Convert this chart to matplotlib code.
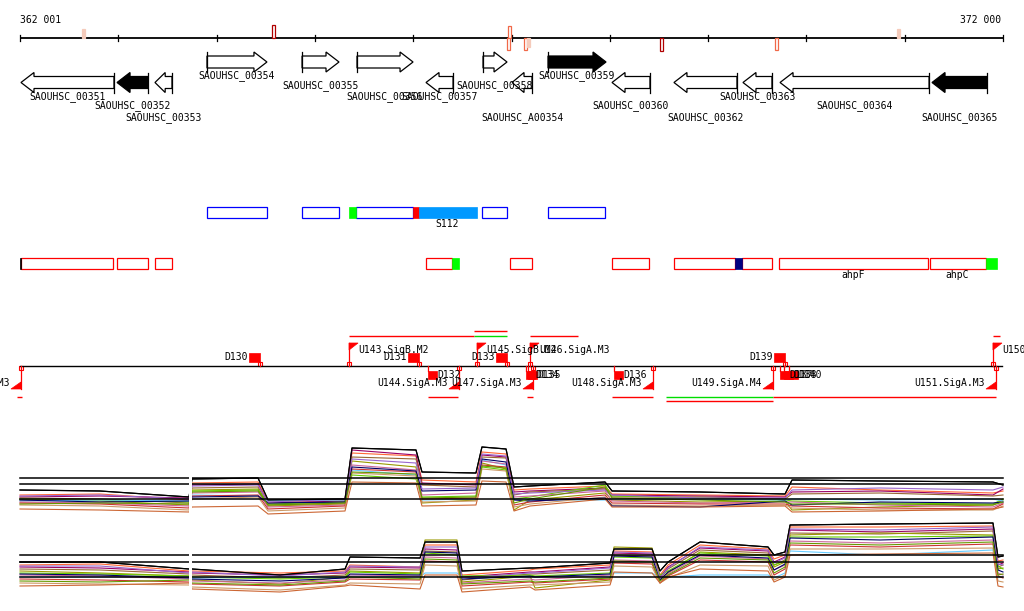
import numpy as np
import matplotlib
matplotlib.use("Agg")
import matplotlib.pyplot as plt
from matplotlib.patches import Polygon, Rectangle

# ---------------- data ----------------
region_start, region_end = 362001, 372000
region_labels = ["362 001", "372 000"]
scale_ticks = [362001, 363001, 364001, 365001, 366001, 367001, 368001,
               369001, 370001, 371001, 372000]

gene_names = ["SAOUHSC_00351", "SAOUHSC_00352", "SAOUHSC_00353", "SAOUHSC_00354",
              "SAOUHSC_00355", "SAOUHSC_00356", "SAOUHSC_00357", "SAOUHSC_00358",
              "SAOUHSC_A00354", "SAOUHSC_00359", "SAOUHSC_00360", "SAOUHSC_00362",
              "SAOUHSC_00363", "SAOUHSC_00364", "SAOUHSC_00365"]
gene_starts = [362011, 362988, 363374, 363903, 364870, 365429, 366131, 366711,
               367006, 367372, 368023, 368653, 369355, 369732, 371278]
gene_ends = [362957, 363303, 363547, 364513, 365246, 365999, 366406, 366955,
             367209, 367962, 368409, 369294, 369650, 371248, 371838]
gene_strands = ["-", "-", "-", "+", "+", "+", "-", "+", "-", "+", "-", "-", "-", "-", "-"]
gene_filled = [False, True, False, False, False, False, False, False, False, True,
               False, False, False, False, True]

mark_pos = [362652, 364575, 366985, 366965, 367138, 367178, 368531, 369701, 370942]
mark_strand = ["+", "+", "+", "-", "-", "-", "-", "-", "+"]
mark_level = ["low", "high", "mid", "mid", "mid", "low", "high", "mid", "low"]

blue_box_starts = [363903, 364870, 365419, 366701, 367372]
blue_box_ends = [364513, 365246, 365999, 366955, 367952]
blue_fill_starts = [365348, 365999, 366060]
blue_fill_ends = [365419, 366060, 366650]
blue_fill_colors = ["#00ff00", "#ff0000", "#0099ff"]
blue_label = ("S112", 366344)

red_box_starts = [362011, 362988, 363374, 366131, 366985, 368023, 368653, 369345,
                  369722, 371258]
red_box_ends = [362947, 363303, 363547, 366395, 367209, 368399, 369274, 369650,
                371237, 371828]
red_fill_starts = [362001, 366395, 369274, 371828]
red_fill_ends = [362011, 366466, 369345, 371940]
red_fill_colors = ["#000000", "#00ff00", "#000080", "#00ff00"]
red_labels = [("ahpF", 370474), ("ahpC", 371532)]

prom_names = ["U142.SigA.M3", "U143.SigB.M2", "U144.SigA.M3", "U145.SigB.M2",
              "U146.SigA.M3", "U147.SigA.M3", "U148.SigA.M3", "U149.SigA.M4",
              "U150.SigA.M3", "U151.SigA.M3"]
prom_pos = [362011, 365348, 366466, 366650, 367189, 367219, 368440, 369660,
            371898, 371929]
prom_strand = ["-", "+", "-", "+", "+", "-", "-", "-", "+", "-"]

term_names = ["D130", "D131", "D133", "D139", "D132", "D134", "D135", "D136",
              "D137", "D138", "D140"]
term_pos = [364442, 366060, 366955, 369783, 366151, 367148, 367168, 368043,
            369732, 369773, 369823]
term_strand = ["+", "+", "+", "+", "-", "-", "-", "-", "-", "-", "-"]

# transcript lines: start, end, side, row, colour
tx_starts = [365348, 366620, 366620, 367189, 371898,
             361971, 366151, 367158, 368023, 368572, 368572, 369660]
tx_ends = [366620, 366955, 366955, 367677, 371970,
           362021, 366456, 367219, 368440, 369660, 369660, 371929]
tx_side = ["+", "+", "+", "+", "+", "-", "-", "-", "-", "-", "-", "-"]
tx_row = [0, 0, 1, 0, 0, 0, 0, 0, 0, 0, 1, 0]
tx_color = ["#ff0000", "#00dd00", "#ff0000", "#ff0000", "#ff0000",
            "#ff0000", "#ff0000", "#ff0000", "#ff0000", "#00dd00", "#ff0000", "#ff0000"]

# expression profiles
top_knots = [362001, 362815, 363720, 363751, 364422, 364524, 365307, 365378, 366029,
             366090, 366639, 366700, 366945, 367026, 367189, 367952, 368023, 368918,
             369783, 369854, 370749, 371898, 372000]
top_series = [
    [2.5, 2.4, 1.8, 3.6, 3.7, 1.5, 1.6, 6.7, 6.5, 4.3, 4.2, 6.8, 6.6, 2.8, 2.9, 3.3, 2.4, 2.3, 2.1, 3.5, 3.4, 3.3, 3.0],
    [2.0, 2.1, 1.5, 3.2, 3.3, 1.3, 1.5, 6.2, 5.9, 3.5, 3.3, 6.3, 6.1, 2.5, 2.6, 2.9, 2.1, 2.0, 1.9, 2.8, 2.5, 2.2, 2.4],
    [1.8, 1.9, 1.7, 3.0, 3.1, 1.2, 1.4, 6.5, 6.0, 3.2, 3.0, 6.0, 5.8, 2.3, 2.4, 2.7, 2.0, 1.9, 1.8, 2.3, 2.4, 2.0, 2.6],
    [1.7, 1.6, 1.2, 2.7, 2.8, 1.0, 1.2, 5.8, 5.6, 3.0, 2.8, 5.8, 5.7, 2.0, 2.3, 2.6, 1.8, 1.8, 1.6, 2.1, 2.2, 1.9, 2.0],
    [1.5, 1.4, 1.0, 2.5, 2.6, 0.9, 1.1, 5.4, 4.8, 1.2, 1.5, 5.2, 4.6, 0.5, 1.5, 2.2, 1.5, 1.3, 1.4, 0.5, 0.8, 1.0, 1.5],
    [1.6, 1.5, 1.3, 2.4, 2.5, 1.1, 1.3, 4.0, 3.6, 1.8, 1.9, 4.8, 4.5, 1.6, 1.8, 3.0, 1.9, 1.7, 1.5, 1.4, 1.2, 1.1, 1.6],
    [1.4, 1.5, 1.4, 2.0, 1.9, 1.4, 1.5, 4.5, 4.0, 1.5, 1.6, 5.5, 5.0, 1.6, 1.5, 1.5, 1.6, 1.6, 1.5, 1.6, 1.5, 1.6, 1.4],
    [1.3, 1.2, 0.9, 2.2, 2.3, 0.8, 1.0, 5.0, 4.5, 2.0, 2.2, 5.4, 5.1, 1.8, 1.9, 2.4, 1.4, 1.2, 1.3, 1.3, 1.0, 0.8, 1.2],
    [1.2, 1.1, 0.7, 1.9, 2.0, 0.6, 0.9, 4.6, 4.3, 1.6, 1.7, 5.0, 4.8, 1.0, 1.3, 2.0, 1.2, 1.1, 1.1, 0.9, 0.7, 0.6, 1.1],
    [1.0, 0.9, 0.5, 1.6, 1.8, 0.4, 0.7, 4.2, 3.9, 1.3, 1.4, 4.6, 4.4, 0.8, 1.1, 1.8, 1.0, 0.9, 1.0, 0.7, 0.5, 0.5, 0.9],
    [1.5, 1.3, 1.4, 1.8, 1.9, 1.2, 1.3, 4.8, 4.4, 2.4, 2.5, 5.6, 5.3, 1.5, 1.4, 1.7, 0.9, 0.8, 1.4, 1.0, 1.3, 1.2, 1.3],
    [0.6, 0.5, 0.3, 0.8, 0.9, 0.1, 0.4, 3.3, 3.2, 0.9, 1.0, 3.4, 3.3, 0.4, 0.9, 1.6, 0.8, 0.8, 0.9, 0.3, 0.4, 0.6, 0.8],
    [1.9, 2.0, 1.6, 2.9, 3.0, 1.3, 1.6, 5.6, 5.2, 2.6, 2.7, 6.1, 5.9, 2.1, 2.2, 2.5, 2.0, 1.7, 1.7, 2.5, 2.7, 2.5, 2.8],
    [1.1, 1.2, 1.1, 2.3, 2.4, 1.0, 1.2, 4.3, 4.1, 1.7, 1.8, 4.9, 4.7, 1.2, 1.6, 2.8, 1.7, 1.5, 1.3, 1.1, 1.1, 1.0, 1.3],
]
top_thresholds = [3.7, 3.1, 1.6]

bot_knots = [362001, 362815, 363720, 363751, 364646, 365307, 365358, 366070, 366121,
             366446, 366497, 367189, 367240, 368003, 368043, 368430, 368511, 368593,
             368918, 369610, 369671, 369783, 369834, 370749, 371898, 371949, 372000]
bot_series = [
    [3.3, 3.3, 2.6, 2.6, 2.0, 2.6, 3.8, 3.7, 5.3, 5.3, 2.4, 2.7, 2.7, 3.2, 4.6, 4.6, 2.4, 3.3, 5.3, 4.8, 4.0, 4.3, 7.0, 7.1, 7.2, 3.8, 3.9],
    [3.0, 3.1, 2.4, 2.4, 2.2, 2.4, 3.0, 2.8, 5.0, 5.0, 2.0, 2.5, 2.6, 3.0, 4.4, 4.3, 2.0, 3.0, 5.0, 4.6, 3.6, 4.0, 6.8, 6.8, 6.9, 3.4, 3.5],
    [2.8, 2.7, 2.3, 2.2, 2.0, 2.2, 2.8, 2.7, 4.6, 4.5, 1.8, 2.3, 2.3, 2.8, 4.2, 4.1, 1.8, 2.8, 4.7, 4.4, 3.3, 3.8, 6.5, 6.3, 6.6, 3.0, 3.2],
    [2.6, 2.5, 2.1, 2.0, 1.7, 2.0, 2.6, 2.5, 4.4, 4.3, 1.5, 2.1, 2.1, 2.5, 4.0, 3.9, 1.6, 2.6, 4.5, 4.2, 3.0, 3.5, 6.2, 6.1, 6.4, 2.8, 3.0],
    [2.4, 2.2, 1.9, 1.5, 1.1, 1.8, 2.4, 2.2, 5.5, 5.5, 1.3, 1.9, 0.7, 1.5, 4.8, 4.7, 1.5, 2.2, 4.3, 4.0, 2.8, 3.3, 6.0, 6.2, 6.0, 2.6, 2.7],
    [2.2, 2.1, 1.9, 1.8, 1.6, 1.8, 2.3, 2.1, 4.2, 4.0, 1.9, 2.0, 1.9, 2.2, 3.8, 3.7, 2.0, 2.4, 4.2, 3.9, 3.0, 3.4, 5.8, 5.8, 5.9, 2.9, 2.6],
    [1.8, 1.8, 1.8, 1.7, 1.8, 1.8, 1.9, 1.8, 2.2, 2.2, 1.7, 1.8, 1.8, 1.9, 2.2, 2.2, 1.7, 1.8, 2.0, 2.0, 1.7, 2.2, 4.4, 4.0, 4.5, 1.8, 1.8],
    [2.0, 1.9, 1.6, 1.4, 1.2, 1.5, 2.0, 1.9, 3.8, 3.7, 1.2, 1.6, 1.5, 2.0, 3.5, 3.4, 1.4, 2.1, 3.9, 3.6, 2.5, 3.0, 5.4, 5.2, 5.5, 2.2, 2.0],
    [1.6, 1.5, 1.3, 1.1, 0.9, 1.3, 1.6, 1.5, 3.4, 3.3, 0.9, 1.3, 1.2, 1.6, 3.2, 3.1, 1.2, 1.9, 3.5, 3.3, 2.0, 2.6, 5.0, 4.8, 5.1, 1.9, 1.7],
    [1.2, 1.1, 1.0, 0.8, 0.5, 1.0, 1.2, 1.1, 3.0, 2.9, 0.6, 1.0, 1.0, 1.3, 2.9, 2.8, 1.2, 1.7, 3.0, 2.9, 1.5, 2.0, 4.6, 4.6, 4.7, 1.4, 1.3],
    [2.1, 2.0, 1.7, 1.6, 1.4, 1.7, 2.1, 2.0, 4.3, 4.2, 1.6, 1.9, 1.8, 2.1, 3.9, 3.8, 1.5, 2.3, 4.0, 3.7, 2.5, 3.1, 5.7, 5.5, 5.8, 2.5, 2.3],
    [0.9, 1.0, 1.2, 0.6, 0.3, 0.9, 1.0, 0.6, 2.0, 2.0, 0.3, 0.8, 0.5, 1.0, 2.3, 2.2, 1.2, 1.8, 2.6, 2.4, 1.3, 1.8, 4.0, 4.1, 4.2, 0.9, 0.8],
    [2.9, 2.9, 2.2, 2.3, 1.9, 2.3, 2.9, 2.8, 4.8, 4.8, 1.7, 2.2, 2.2, 2.7, 4.3, 4.2, 1.7, 2.7, 4.8, 4.5, 3.2, 3.7, 6.6, 6.5, 6.8, 3.1, 3.0],
    [1.4, 1.3, 1.5, 1.2, 1.0, 1.4, 1.8, 1.6, 3.6, 3.5, 1.1, 1.4, 1.3, 1.7, 3.4, 3.3, 1.4, 2.0, 3.7, 3.5, 2.2, 2.8, 5.2, 5.0, 5.3, 2.0, 2.1],
]
bot_thresholds = [4.0, 3.3, 1.8]
expr_gap = (363722, 363749)

# ---------------- layout / style ----------------
W, H = 1024, 611
bp_per_px = (region_end - region_start) / 983.0
x_left = region_start - 20 * bp_per_px
x_right = x_left + W * bp_per_px

series_colors = ["#000000", "#ff6633", "#990066", "#996633", "#999900", "#66cc00",
                 "#66ccff", "#cc6699", "#cc3333", "#cc9966", "#000066", "#cc6633",
                 "#9966cc", "#669900"]
mark_colors = {"low": "#f5cbbb", "mid": "#f06848", "high": "#b00000"}
mark_len = {"low": 9, "mid": 12, "high": 13}
label_y = [97, 106, 118, 76, 86, 97, 97, 86, 118, 76, 106, 118, 97, 106, 118]

FONT = dict(family="DejaVu Sans Mono", fontsize=7.0)

fig = plt.figure(figsize=(W / 100, H / 100), dpi=100)
ax = fig.add_axes([0, 0, 1, 1])
ax.set_xlim(x_left, x_right)
ax.set_ylim(H, 0)
ax.axis("off")


def px(n):
    return n * bp_per_px


# scale line
ax.plot([region_start, region_end], [38, 38], color="black", lw=1.3, solid_capstyle="butt")
for t in scale_ticks:
    ax.plot([t, t], [35, 41], color="black", lw=0.9)
ax.text(region_start, 20, region_labels[0], ha="left", va="center", **FONT)
ax.text(region_end - px(2), 20, region_labels[1], ha="right", va="center", **FONT)

for p, s, lev in zip(mark_pos, mark_strand, mark_level):
    h = mark_len[lev]
    y0 = 38 - h if s == "+" else 38
    fc = mark_colors[lev] if lev == "low" else "white"
    ax.add_patch(Rectangle((p - px(1.5), y0), px(3), h, facecolor=fc,
                           edgecolor=mark_colors[lev], lw=0.9, zorder=3))

# genes
for name, s, e, st, fill, ly in zip(gene_names, gene_starts, gene_ends, gene_strands,
                                    gene_filled, label_y):
    c = 62 if st == "+" else 82.5
    L = e - s
    hl = min(px(13), 0.6 * L)
    if st == "+":
        pts = [(s, c - 6), (e - hl, c - 6), (e - hl, c - 10), (e, c),
               (e - hl, c + 10), (e - hl, c + 6), (s, c + 6)]
        bar = s
    else:
        pts = [(e, c - 6), (s + hl, c - 6), (s + hl, c - 10), (s, c),
               (s + hl, c + 10), (s + hl, c + 6), (e, c + 6)]
        bar = e
    ax.add_patch(Polygon(pts, closed=True, facecolor="black" if fill else "white",
                         edgecolor="black", lw=0.9))
    ax.plot([bar, bar], [c - 10, c + 10], color="black", lw=0.9)
    ax.text((s + e) / 2, ly, name, ha="center", va="center", **FONT)

# blue feature track
for s, e in zip(blue_box_starts, blue_box_ends):
    ax.add_patch(Rectangle((s, 207), e - s, 11, facecolor="none", edgecolor="#0000ff", lw=0.9))
for s, e, c in zip(blue_fill_starts, blue_fill_ends, blue_fill_colors):
    ax.add_patch(Rectangle((s, 207), e - s, 11, facecolor=c, edgecolor=c, lw=0.5))
ax.text(blue_label[1], 224, blue_label[0], ha="center", va="center", **FONT)

# red feature track
for s, e in zip(red_box_starts, red_box_ends):
    ax.add_patch(Rectangle((s, 258), e - s, 11, facecolor="none", edgecolor="#ff0000", lw=0.9))
for s, e, c in zip(red_fill_starts, red_fill_ends, red_fill_colors):
    ax.add_patch(Rectangle((s, 258), e - s, 11, facecolor=c, edgecolor=c, lw=0.5))
for lab, p in red_labels:
    ax.text(p, 275, lab, ha="center", va="center", **FONT)

# regulatory track
RED = "#ff0000"
ax.plot([region_start, region_end - px(1)], [366, 366], color="black", lw=1.0)
for s, e, side, row, c in zip(tx_starts, tx_ends, tx_side, tx_row, tx_color):
    y = (336 - 5 * row) if side == "+" else (397 + 4 * row)
    ax.plot([s, e], [y, y], color=c, lw=1.0, solid_capstyle="butt")

for name, p, st in zip(prom_names, prom_pos, prom_strand):
    if st == "+":
        ax.plot([p, p], [366, 343], color=RED, lw=0.9)
        ax.add_patch(Polygon([(p, 343), (p + px(9), 343), (p, 350)], closed=True,
                             facecolor=RED, edgecolor=RED, lw=0.5))
        ax.add_patch(Rectangle((p - px(2), 362), px(4), 4, facecolor="white",
                               edgecolor=RED, lw=0.8))
        ax.text(p + px(9), 350, name, ha="left", va="center", **FONT)
    else:
        ax.plot([p, p], [366, 389], color=RED, lw=0.9)
        ax.add_patch(Polygon([(p, 389), (p - px(10), 389), (p, 382)], closed=True,
                             facecolor=RED, edgecolor=RED, lw=0.5))
        ax.add_patch(Rectangle((p - px(2), 366), px(4), 4, facecolor="white",
                               edgecolor=RED, lw=0.8))
        ax.text(p - px(11), 383, name, ha="right", va="center", **FONT)

for name, p, st in zip(term_names, term_pos, term_strand):
    if st == "+":
        ax.plot([p, p], [362, 366], color=RED, lw=0.9)
        ax.add_patch(Rectangle((p - px(11), 353), px(11), 9, facecolor=RED, edgecolor=RED, lw=0.5))
        ax.add_patch(Rectangle((p - px(2), 362), px(4), 4, facecolor="white",
                               edgecolor=RED, lw=0.8))
        ax.text(p - px(12), 357, name, ha="right", va="center", **FONT)
    else:
        ax.plot([p, p], [366, 371], color=RED, lw=0.9)
        ax.add_patch(Rectangle((p, 371), px(9), 8, facecolor=RED, edgecolor=RED, lw=0.5))
        ax.text(p + px(9), 375, name, ha="left", va="center", **FONT)

# expression panels
def panel(top_px, bot_px, ymax, knots, series, thresholds):
    pax = fig.add_axes([0, 1 - bot_px / H, 1, (bot_px - top_px) / H])
    pax.set_xlim(x_left, x_right)
    pax.set_ylim(0, ymax)
    pax.axis("off")
    for vals, col in zip(series, series_colors):
        pax.plot(knots, vals, color=col, lw=0.8)
    pax.plot(knots, series[0], color=series_colors[0], lw=0.9, zorder=3)
    for t in thresholds:
        pax.plot([region_start, region_end], [t, t], color="black", lw=1.1, zorder=4)
    pax.axvspan(expr_gap[0], expr_gap[1], color="white", zorder=10, lw=0)


panel(445, 515, 7.0, top_knots, top_series, top_thresholds)
panel(520, 595, 7.5, bot_knots, bot_series, bot_thresholds)

fig.savefig("out.png", dpi=100)
